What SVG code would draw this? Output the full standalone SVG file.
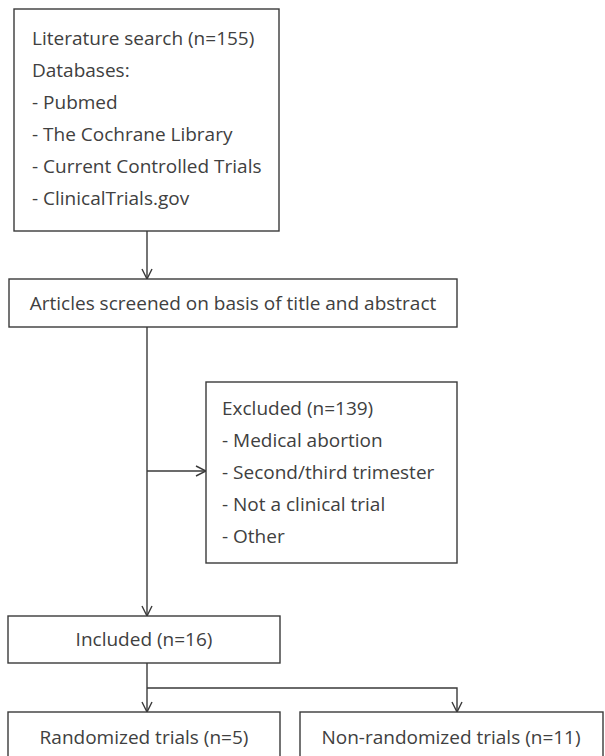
<svg xmlns="http://www.w3.org/2000/svg" width="605" height="756" viewBox="0 0 605 756">
<style>
.box{fill:#fff;stroke:#3a3a3a;stroke-width:1.4}
.t{font-family:"Open Sans","DejaVu Sans",sans-serif;font-size:19px;fill:#404040}
.c{text-anchor:middle}
.ln{fill:none;stroke:#3a3a3a;stroke-width:1.4}
</style>
<defs>
<marker id="ah" viewBox="0 0 12 12" refX="11" refY="6" markerWidth="12" markerHeight="12" markerUnits="userSpaceOnUse" orient="auto">
<path d="M1,1 L11,6 L1,11" fill="none" stroke="#3a3a3a" stroke-width="1.4"/>
</marker>
</defs>
<rect width="605" height="756" fill="#fff"/>
<g id="connectors">
<line class="ln" x1="147" y1="231" x2="147" y2="279" marker-end="url(#ah)"/>
<line class="ln" x1="147" y1="327" x2="147" y2="616" marker-end="url(#ah)"/>
<line class="ln" x1="147" y1="471" x2="206" y2="471" marker-end="url(#ah)"/>
<line class="ln" x1="147" y1="663" x2="147" y2="712" marker-end="url(#ah)"/>
<polyline class="ln" points="147,688 457,688 457,712" marker-end="url(#ah)"/>
</g>
<g id="search">
<rect class="box" x="14" y="9" width="265" height="222"/>
<text class="t" x="32" y="45">Literature search (n=155)</text>
<text class="t" x="32" y="77">Databases:</text>
<text class="t" x="32" y="109">- Pubmed</text>
<text class="t" x="32" y="141">- The Cochrane Library</text>
<text class="t" x="32" y="173">- Current Controlled Trials</text>
<text class="t" x="32" y="205">- ClinicalTrials.gov</text>
</g>
<g id="screened">
<rect class="box" x="9" y="279" width="448" height="48"/>
<text class="t c" x="233" y="310">Articles screened on basis of title and abstract</text>
</g>
<g id="excluded">
<rect class="box" x="206" y="382" width="251" height="181"/>
<text class="t" x="222" y="415">Excluded (n=139)</text>
<text class="t" x="222" y="447">- Medical abortion</text>
<text class="t" x="222" y="479">- Second/third trimester</text>
<text class="t" x="222" y="511">- Not a clinical trial</text>
<text class="t" x="222" y="543">- Other</text>
</g>
<g id="included">
<rect class="box" x="8" y="616" width="272" height="47"/>
<text class="t c" x="144" y="646">Included (n=16)</text>
</g>
<g id="randomized">
<rect class="box" x="8" y="712" width="272" height="60"/>
<text class="t c" x="144" y="744">Randomized trials (n=5)</text>
</g>
<g id="nonrandomized">
<rect class="box" x="300" y="712" width="303" height="60"/>
<text class="t c" x="451" y="744">Non-randomized trials (n=11)</text>
</g>
</svg>
